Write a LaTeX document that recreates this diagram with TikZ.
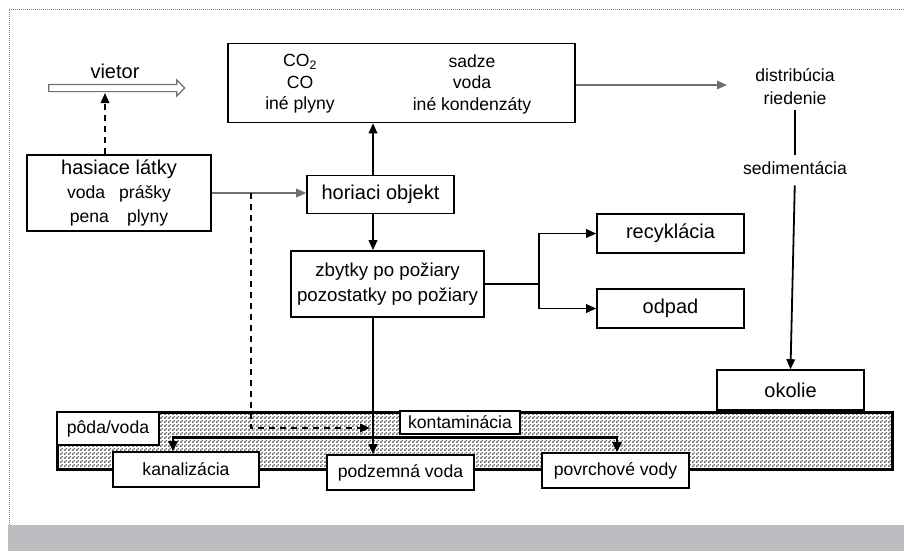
\documentclass[tikz,border=0pt]{standalone}
\usepackage{fontspec}
\setmainfont{Liberation Sans}
\usetikzlibrary{arrows.meta,patterns,shapes.arrows}
\definecolor{arrowgray}{RGB}{112,112,112}
\definecolor{bandgray}{RGB}{188,189,192}
\definecolor{specklegray}{RGB}{105,105,105}
\newcommand{\bigtxt}{\fontsize{20}{24}\selectfont}
\newcommand{\midtxt}{\fontsize{18.7}{25}\selectfont}
\newcommand{\smalltxt}{\fontsize{17.6}{21.5}\selectfont}
\pgfdeclarepatternformonly{speckle}{\pgfpointorigin}{\pgfpoint{4pt}{4pt}}{\pgfpoint{4pt}{4pt}}{%
  \pgfpathrectangle{\pgfpointorigin}{\pgfpoint{2pt}{2pt}}%
  \pgfpathrectangle{\pgfpoint{2pt}{2pt}}{\pgfpoint{1.6pt}{1.6pt}}%
  \pgfusepath{fill}}

\begin{document}
\begin{tikzpicture}[x=1pt, y=-1pt, line width=1.6pt,
    box/.style = {draw, fill=white, inner sep=0pt, minimum height=38pt, minimum width=147pt, font=\bigtxt},
    lbl/.style = {inner sep=0pt, align=center, font=\smalltxt},
    flow/.style = {-{Triangle[length=10pt,width=8.5pt]}, line width=1.8pt},
    grayflow/.style = {flow, arrowgray},
    bothflow/.style = {{Triangle[length=10pt,width=9pt]}-{Triangle[length=10pt,width=9pt]}, line width=2.8pt}]
    \useasboundingbox (0,0) rectangle (904,551);
    % frame and band
    \fill[bandgray] (8,525) rectangle (904,551);
    \draw[gray, line width=0.8pt, dash pattern=on 1pt off 1pt] (9,525) -- (9,9) -- (904,9);
    \draw[line width=3pt, preaction={fill=white}, pattern=speckle, pattern color=specklegray] (57,412) rectangle (892,469);

    % upper part
    \node[box, minimum width=347pt, minimum height=79pt] (gases) at (401.5,83) {};
    \node[lbl] (gasL) at (300,84) {CO\textsubscript{2}\\CO\\iné plyny};
    \node[lbl] (gasR) at (472,84) {sadze\\voda\\iné kondenzáty};
    \node[single arrow, draw=arrowgray, line width=1.2pt, inner xsep=0pt, inner ysep=3pt, minimum height=136pt, single arrow head extend=4.5pt] (wind) at (115,88) {};
    \node[font=\bigtxt, inner sep=0pt] (windlbl) at (115,71) {vietor};
    \node[box, minimum width=184pt, minimum height=76pt, align=center] (agents) at (119,193) {hasiace látky\\{\smalltxt voda\hspace{14pt}prášky}\\{\smalltxt pena\hspace{18pt}plyny}};
    \node[box] (burning) at (380.5,194.5) {horiaci objekt};
    \node[box, minimum width=193pt, minimum height=66pt, align=center, font=\midtxt] (residue) at (387.5,284) {zbytky po požiary\\pozostatky po požiary};
    \node[box, minimum height=39pt] (recycle) at (670.5,233.5) {recyklácia};
    \node[box, minimum height=39pt] (waste) at (670.5,308.5) {odpad};
    \node[box, minimum height=40pt] (surround) at (790.5,390) {okolie};
    \node[lbl, font=\fontsize{17.6}{23}\selectfont] (spread) at (795,86.5) {distribúcia\\riedenie};
    \node[lbl] (settle) at (795,168) {sedimentácia};

    % ground
    \node[box, font=\smalltxt, minimum width=102pt, minimum height=33pt] (soil) at (108,428.5) {pôda/voda};
    \node[box, font=\smalltxt, minimum width=120pt, minimum height=23pt] (contam) at (460,422.5) {kontaminácia};
    \node[box, font=\smalltxt, minimum width=146pt, minimum height=35pt] (sewer) at (186,469.5) {kanalizácia};
    \node[box, font=\smalltxt, minimum height=35pt] (under) at (400.5,472.5) {podzemná voda};
    \node[box, font=\smalltxt, minimum height=35pt] (surface) at (615.5,470.5) {povrchové vody};

    \coordinate (windfoot) at (105,93);
    \coordinate (split) at ([xshift=39pt]agents.east);
    \coordinate (seep) at (370,428);
    \coordinate (drift) at (727,85);

    % connectors
    \draw[flow, dash pattern=on 6pt off 5pt] ([xshift=-14pt]agents.north) -- (windfoot);
    \draw[grayflow] (agents.east) -- (agents.east -| burning.west);
    \draw[flow, dash pattern=on 6pt off 5pt] (split) |- (seep);
    \draw[flow] ([xshift=-7.5pt]burning.north) -- ([xshift=-7.5pt]burning.north |- gases.south);
    \draw[flow] ([xshift=-7.5pt]burning.south) -- ([xshift=-7.5pt]burning.south |- residue.north);
    \draw[flow] (residue.east) -- ++(54,0) |- (recycle.west);
    \draw[flow] (residue.east) -- ++(54,0) |- (waste.west);
    \draw[flow] ([xshift=-14.5pt]residue.south) -- ([xshift=-14.5pt]residue.south |- under.north);
    \draw[grayflow] (gases.east |- drift) -- (drift);
    \draw[shorten <=5pt, shorten >=6pt] (spread.south) -- (settle.north);
    \draw[flow, shorten <=10pt] (settle.south) -- (surround.north);
    \draw[bothflow] ([xshift=-13pt]sewer.north) -- ++(0,-14) -| ([xshift=1.5pt]surface.north);
\end{tikzpicture}
\end{document}
